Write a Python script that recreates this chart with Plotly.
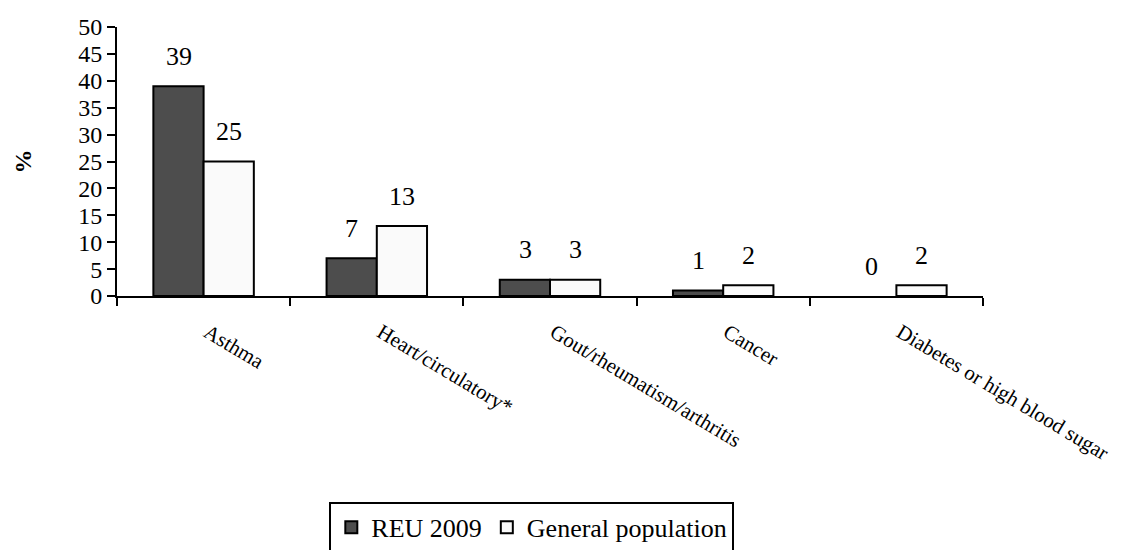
import plotly.graph_objects as go

categories = ["Asthma", "Heart/circulatory*", "Gout/rheumatism/arthritis", "Cancer", "Diabetes or high blood sugar"]
reu_2009 = [39, 7, 3, 1, 0]
general_population = [25, 13, 3, 2, 2]
series_names = ["REU 2009", "General population"]
y_ticks = [0, 5, 10, 15, 20, 25, 30, 35, 40, 45, 50]

FONT = "'Liberation Serif', 'DejaVu Serif', serif"

fig = go.Figure()
fig.add_trace(go.Bar(name=series_names[0], x=categories, y=reu_2009,
                     marker=dict(color="#4d4d4d",
                                 line=dict(color="black", width=[2 if v > 0 else 0 for v in reu_2009]))))
fig.add_trace(go.Bar(name=series_names[1], x=categories, y=general_population,
                     marker=dict(color="#fafafa",
                                 line=dict(color="black", width=[2 if v > 0 else 0 for v in general_population]))))

for vals, xs in ((reu_2009, -25), (general_population, 25)):
    for c, v in zip(categories, vals):
        fig.add_annotation(x=c, y=v, text=str(v), showarrow=False, xshift=xs, yshift=30,
                           yanchor="middle", font=dict(family=FONT, size=26, color="black"))

fig.update_layout(
    width=1139, height=550,
    margin=dict(l=117, r=156, t=27, b=254, autoexpand=False),
    paper_bgcolor="white", plot_bgcolor="white",
    barmode="group", bargap=0.42, bargroupgap=0,
    font=dict(family=FONT, color="black"),
    showlegend=True,
    legend=dict(orientation="h", x=0.479, xanchor="center", y=-0.765, yanchor="top",
                bordercolor="black", borderwidth=2, font=dict(family=FONT, size=26),
                itemwidth=30, tracegroupgap=0),
    xaxis=dict(showline=True, linecolor="black", linewidth=2, ticks="outside", tickson="boundaries",
               ticklen=8, tickwidth=2, tickcolor="black", tickangle=31, automargin=False,
               ticklabelstandoff=14, ticklabelshift=4,
               tickfont=dict(family=FONT, size=21), showgrid=False),
    yaxis=dict(range=[0, 50], tickvals=y_ticks, showline=True, linecolor="black", linewidth=2,
               ticks="outside", ticklen=8, tickwidth=2, tickcolor="black", showgrid=False,
               zeroline=False, tickfont=dict(family=FONT, size=24), automargin=False,
               title=dict(text="<b>%</b>", font=dict(family=FONT, size=24), standoff=40)),
)

fig.write_html("out.html")
